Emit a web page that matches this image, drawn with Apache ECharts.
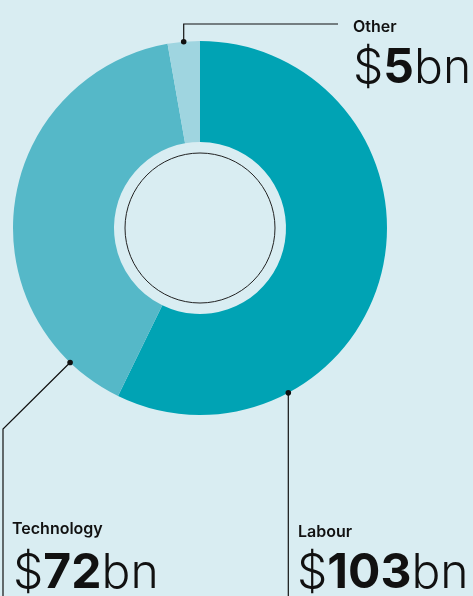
<!DOCTYPE html>
<html>
<head>
<meta charset="utf-8">
<script src="https://cdn.jsdelivr.net/npm/echarts@6/dist/echarts.min.js"></script>
<style>
  html, body { margin: 0; padding: 0; background: #d9edf2; }
  #chart { width: 473px; height: 596px; }
</style>
</head>
<body>
<div id="chart"></div>
<script>
// Spending breakdown, $bn
const categories = ['Labour', 'Technology', 'Other'];
const values = [103, 72, 5];
const colors = ['#00a3b4', '#55b8c8', '#9fd5e0'];

const CX = 200, CY = 228, R_OUT = 187, R_IN = 86;

// where along each slice the leader line attaches (0 = slice start, 1 = slice end)
const anchorFrac = [0.737, 0.125, 0.5];

const total = values.reduce((a, b) => a + b, 0);
function anchorPoint(i) {
  let before = 0;
  for (let k = 0; k < i; k++) before += values[k];
  const deg = (before + values[i] * anchorFrac[i]) / total * 360; // clockwise from 12 o'clock
  const rad = deg * Math.PI / 180;
  return [CX + R_OUT * Math.sin(rad), CY - R_OUT * Math.cos(rad)];
}

const chart = echarts.init(document.getElementById('chart'), null, { renderer: 'canvas' });

const FONT = 'Inter, "Noto Sans", sans-serif';
function valueText(i) {
  return '{d|$}{n|' + values[i] + '}{d|bn}';
}
const rich = {
  d: { fontFamily: FONT, fontSize: 48, fontWeight: 300, fill: '#111' },
  n: { fontFamily: FONT, fontSize: 48, fontWeight: 700, fill: '#111' }
};

const aL = anchorPoint(0), aT = anchorPoint(1), aO = anchorPoint(2);

const graphics = [
  // inner ring outline
  { type: 'circle', shape: { cx: CX, cy: CY, r: 75 }, style: { fill: 'none', stroke: '#222', lineWidth: 1 }, z: 10 },
  // leader lines
  { type: 'polyline', shape: { points: [aO, [aO[0], 24], [338, 24]] }, style: { stroke: '#111', lineWidth: 1.2, fill: null }, z: 10 },
  { type: 'polyline', shape: { points: [aT, [3, 429], [3, 600]] }, style: { stroke: '#111', lineWidth: 1.2, fill: null }, z: 10 },
  { type: 'polyline', shape: { points: [aL, [aL[0], 600]] }, style: { stroke: '#111', lineWidth: 1.2, fill: null }, z: 10 },
  // anchor dots
  { type: 'circle', shape: { cx: aO[0], cy: aO[1], r: 2.8 }, style: { fill: '#111' }, z: 11 },
  { type: 'circle', shape: { cx: aT[0], cy: aT[1], r: 2.8 }, style: { fill: '#111' }, z: 11 },
  { type: 'circle', shape: { cx: aL[0], cy: aL[1], r: 2.8 }, style: { fill: '#111' }, z: 11 },
  // category names
  { type: 'text', x: 353, y: 27, style: { text: categories[2], font: '600 16px ' + FONT, fill: '#111', verticalAlign: 'middle' }, z: 10 },
  { type: 'text', x: 12, y: 529, style: { text: categories[1], font: '600 16px ' + FONT, fill: '#111', verticalAlign: 'middle' }, z: 10 },
  { type: 'text', x: 298, y: 532, style: { text: categories[0], font: '600 16px ' + FONT, fill: '#111', verticalAlign: 'middle' }, z: 10 },
  // values
  { type: 'text', x: 353, y: 69, style: { text: valueText(2), rich: rich, verticalAlign: 'middle' }, z: 10 },
  { type: 'text', x: 13, y: 574, style: { text: valueText(1), rich: rich, verticalAlign: 'middle' }, z: 10 },
  { type: 'text', x: 297, y: 574, style: { text: valueText(0), rich: rich, verticalAlign: 'middle' }, z: 10 }
];

chart.setOption({
  backgroundColor: '#d9edf2',
  animation: false,
  series: [{
    type: 'pie',
    center: [CX, CY],
    radius: [R_IN, R_OUT],
    startAngle: 90,
    clockwise: true,
    label: { show: false },
    labelLine: { show: false },
    emphasis: { disabled: true },
    itemStyle: { borderWidth: 0 },
    data: categories.map((c, i) => ({ name: c, value: values[i], itemStyle: { color: colors[i] } }))
  }],
  graphic: graphics
});
</script>
</body>
</html>
